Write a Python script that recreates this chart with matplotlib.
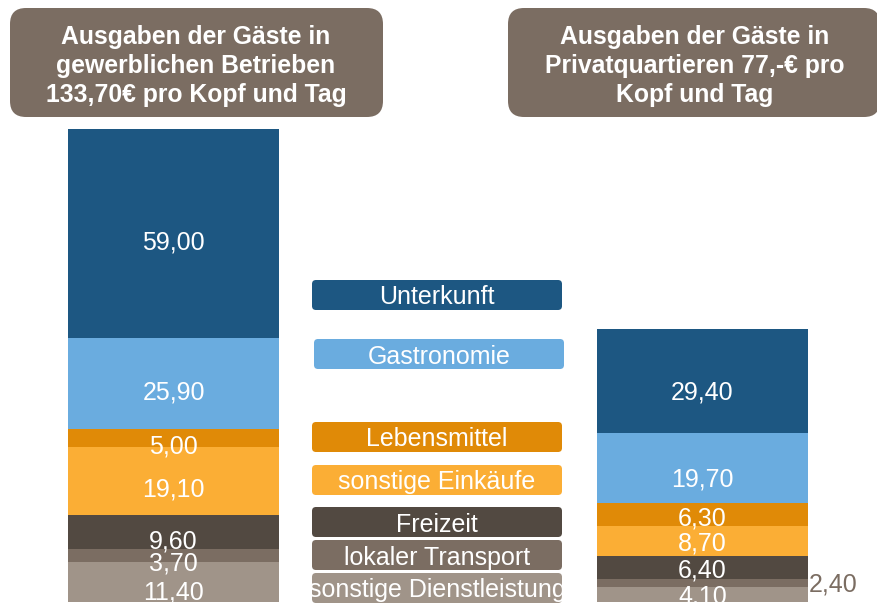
import matplotlib
matplotlib.use("Agg")
import matplotlib.pyplot as plt
from matplotlib.patches import FancyBboxPatch

plt.rcParams['font.family'] = ['Liberation Sans', 'DejaVu Sans']

categories = ["Unterkunft", "Gastronomie", "Lebensmittel", "sonstige Einkäufe",
              "Freizeit", "lokaler Transport", "sonstige Dienstleistung"]
gewerblich = [59.0, 25.9, 5.0, 19.1, 9.6, 3.7, 11.4]
privat = [29.4, 19.7, 6.3, 8.7, 6.4, 2.4, 4.1]
colors = ["#1d5782", "#6aacdf", "#e08a07", "#fbae35", "#524941", "#7b6d62", "#a09489"]
titles = ["Ausgaben der Gäste in\ngewerblichen Betrieben\n133,70€ pro Kopf und Tag",
          "Ausgaben der Gäste in\nPrivatquartieren 77,-€ pro\nKopf und Tag"]

# label vertical nudges in pixels (downwards), per bar, same order as categories
nudges = [[9, 9, 8, 9, 10, 8, 11],
          [11, 11, 4, 3, 3, 0, 2]]

def fmt(v):
    return f"{v:.2f}".replace(".", ",")

W, H = 877, 604
fig = plt.figure(figsize=(W / 100, H / 100), dpi=100)

# main bar axes
ax = fig.add_axes([0, 0, 1, 1])
ppu = 3.54
ax.set_ylim(-2 / ppu, 602 / ppu)
ax.set_xlim(-173.5 / 529, 1 + (W - 702.5) / 529)
ax.axis("off")
bw = 211 / 529

for xi, vals in enumerate([gewerblich, privat]):
    bottom = 0.0
    items = list(zip(categories, vals, colors, nudges[xi]))[::-1]
    for cat, v, c, nd in items:
        ax.bar(xi, v, bottom=bottom, width=bw, color=c, edgecolor="none")
        cy = bottom + v / 2
        if xi == 1 and cat == "lokaler Transport":
            ax.text(xi + bw / 2 + 1 / 529, cy - 1 / ppu, fmt(v), ha="left", va="center",
                    color="#7b6d62", fontsize=18)
        else:
            ax.text(xi, cy - nd / ppu, fmt(v), ha="center", va="center",
                    color="white", fontsize=18)
        bottom += v

# overlay axes in pixel coordinates
ov = fig.add_axes([0, 0, 1, 1], facecolor="none")
ov.set_xlim(0, W)
ov.set_ylim(H, 0)
ov.axis("off")

# title boxes
for (x0, x1), cx, t in zip([(10, 383), (508, 880)], [196, 695], titles):
    p = FancyBboxPatch((x0, 8), x1 - x0, 109,
                       boxstyle="round,pad=0,rounding_size=16",
                       fc="#7b6d62", ec="none", clip_on=False)
    ov.add_patch(p)
    ov.text(cx, 66, t, ha="center", va="center",
            color="white", fontsize=17.8, fontweight="bold", linespacing=1.28)

# legend boxes
box_pos = [(312, 280), (314, 339), (312, 422), (312, 465), (312, 507), (312, 540), (312, 573)]
for (bx, by), cat, c in zip(box_pos, categories, colors):
    p = FancyBboxPatch((bx, by), 250, 30, boxstyle="round,pad=0,rounding_size=4",
                       fc=c, ec="none")
    ov.add_patch(p)
    t = ov.text(bx + 125, by + 17.5, cat, ha="center", va="center",
                color="white", fontsize=18)
    t.set_clip_path(p)

fig.savefig("out.png", dpi=100)
